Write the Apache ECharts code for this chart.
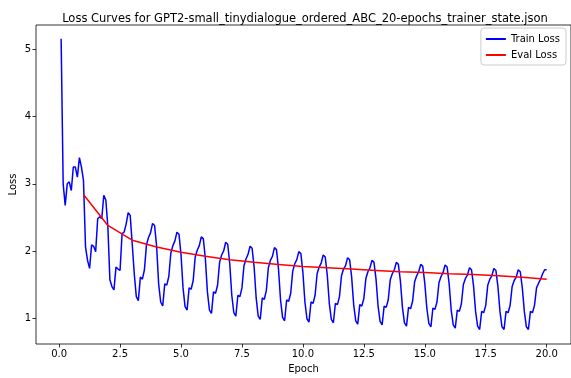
<!DOCTYPE html>
<html>
<head>
<meta charset="utf-8">
<script src="https://cdn.jsdelivr.net/npm/echarts@6/dist/echarts.min.js"></script>
<style>html,body{margin:0;padding:0;background:#fff;}#c{width:571px;height:378px;}</style>
</head>
<body>
<div id="c"></div>
<script>
// 12 logged points per epoch, epoch 0 .. 19
const stepsPerEpoch = 12;
const trainLoss = [
  5.16, 3.00, 2.68, 3.00, 3.03, 2.90, 3.25, 3.25, 3.10, 3.39, 3.25, 3.05,
  2.06, 1.86, 1.74, 2.09, 2.07, 1.99, 2.48, 2.51, 2.48, 2.83, 2.76, 2.36,
  1.57, 1.47, 1.42, 1.76, 1.73, 1.71, 2.26, 2.28, 2.40, 2.57, 2.53, 2.10,
  1.66, 1.32, 1.26, 1.61, 1.58, 1.72, 2.09, 2.20, 2.27, 2.41, 2.38, 2.07,
  1.51, 1.24, 1.18, 1.51, 1.49, 1.62, 1.97, 2.08, 2.15, 2.28, 2.25, 1.95,
  1.45, 1.17, 1.12, 1.45, 1.43, 1.56, 1.91, 2.01, 2.08, 2.21, 2.18, 1.88,
  1.39, 1.12, 1.07, 1.39, 1.37, 1.49, 1.83, 1.94, 2.00, 2.13, 2.10, 1.81,
  1.34, 1.08, 1.03, 1.34, 1.32, 1.45, 1.78, 1.88, 1.95, 2.07, 2.04, 1.76,
  1.30, 1.03, 0.98, 1.30, 1.28, 1.41, 1.75, 1.86, 1.92, 2.05, 2.02, 1.73,
  1.27, 1.01, 0.96, 1.27, 1.25, 1.37, 1.70, 1.81, 1.87, 1.99, 1.96, 1.68,
  1.24, 0.99, 0.94, 1.24, 1.22, 1.34, 1.66, 1.76, 1.82, 1.94, 1.91, 1.64,
  1.22, 0.98, 0.93, 1.22, 1.20, 1.32, 1.63, 1.73, 1.78, 1.90, 1.87, 1.61,
  1.20, 0.96, 0.91, 1.20, 1.18, 1.29, 1.59, 1.69, 1.75, 1.86, 1.83, 1.58,
  1.18, 0.95, 0.90, 1.18, 1.16, 1.27, 1.57, 1.66, 1.72, 1.83, 1.80, 1.55,
  1.16, 0.93, 0.88, 1.16, 1.14, 1.25, 1.54, 1.63, 1.69, 1.80, 1.77, 1.52,
  1.15, 0.92, 0.87, 1.15, 1.13, 1.24, 1.53, 1.62, 1.68, 1.79, 1.76, 1.51,
  1.12, 0.90, 0.85, 1.12, 1.10, 1.21, 1.50, 1.59, 1.64, 1.75, 1.72, 1.48,
  1.10, 0.88, 0.83, 1.10, 1.08, 1.19, 1.49, 1.58, 1.63, 1.74, 1.71, 1.47,
  1.10, 0.87, 0.83, 1.10, 1.08, 1.19, 1.47, 1.56, 1.61, 1.72, 1.69, 1.45,
  1.10, 0.87, 0.83, 1.10, 1.08, 1.19, 1.45, 1.52, 1.58, 1.66, 1.72, 1.72
];
const evalEpochs = [1,2,3,4,5,6,7,8,9,10,11,12,13,14,15,16,17,18,19,20];
const evalLoss = [2.84, 2.38, 2.16, 2.06, 1.98, 1.92, 1.87, 1.83, 1.80, 1.77,
                  1.75, 1.73, 1.71, 1.69, 1.68, 1.66, 1.65, 1.63, 1.61, 1.58];
const xTicks = [0, 2.5, 5, 7.5, 10, 12.5, 15, 17.5, 20];
const yTicks = [1, 2, 3, 4, 5];

const trainData = trainLoss.map((v, i) => [(i + 1) / stepsPerEpoch, v]);
const evalData = evalEpochs.map((e, i) => [e, evalLoss[i]]);

const chart = echarts.init(document.getElementById('c'), null, {renderer: 'canvas'});
const font = 'DejaVu Sans';
chart.setOption({
  animation: false,
  backgroundColor: '#fff',
  title: {
    text: 'Loss Curves for GPT2-small_tinydialogue_ordered_ABC_20-epochs_trainer_state.json',
    left: 300, top: 8, textAlign: 'center',
    textStyle: {fontFamily: font, fontSize: 11.5, fontWeight: 'normal', color: '#000'}
  },
  legend: {
    orient: 'vertical', right: 5, top: 28,
    itemWidth: 20, itemHeight: 2, itemGap: 6,
    padding: [6, 6, 5, 5],
    borderColor: '#ccc', borderWidth: 1, borderRadius: 3,
    backgroundColor: 'rgba(255,255,255,0.8)',
    textStyle: {fontFamily: font, fontSize: 10, color: '#000'},
    data: [{name: 'Train Loss', icon: 'rect'}, {name: 'Eval Loss', icon: 'rect'}]
  },
  grid: {left: 36, right: 0, top: 25, bottom: 34, outerBoundsMode: 'none', containLabel: false,
    show: true, borderColor: '#000', borderWidth: 0.8, backgroundColor: 'transparent'},
  xAxis: {
    type: 'value', min: -0.9475, max: 20.9975,
    name: 'Epoch', nameLocation: 'middle', nameGap: 20, nameMoveOverlap: false,
    nameTextStyle: {fontFamily: font, fontSize: 10, color: '#000'},
    axisLine: {show: false, onZero: false},
    splitLine: {show: false},
    axisTick: {show: true, length: 3.5, customValues: xTicks, lineStyle: {color: '#000', width: 0.8}},
    axisLabel: {customValues: xTicks, fontFamily: font, fontSize: 10, color: '#000', margin: 5,
      formatter: v => v.toFixed(1)}
  },
  yAxis: {
    type: 'value', min: 0.614, max: 5.366,
    name: 'Loss', nameLocation: 'middle', nameGap: 18, nameMoveOverlap: false,
    nameTextStyle: {fontFamily: font, fontSize: 10, color: '#000'},
    axisLine: {show: false, onZero: false},
    splitLine: {show: false},
    axisTick: {show: true, length: 3.5, customValues: yTicks, lineStyle: {color: '#000', width: 0.8}},
    axisLabel: {customValues: yTicks, fontFamily: font, fontSize: 10, color: '#000', margin: 5,
      formatter: v => String(v)}
  },
  series: [
    {name: 'Train Loss', type: 'line', data: trainData, showSymbol: false, symbol: 'none',
     lineStyle: {color: '#0000ff', width: 1.5}, itemStyle: {color: '#0000ff'}, z: 2},
    {name: 'Eval Loss', type: 'line', data: evalData, showSymbol: false, symbol: 'none',
     lineStyle: {color: '#ff0000', width: 1.5}, itemStyle: {color: '#ff0000'}, z: 3}
  ]
});
</script>
</body>
</html>
